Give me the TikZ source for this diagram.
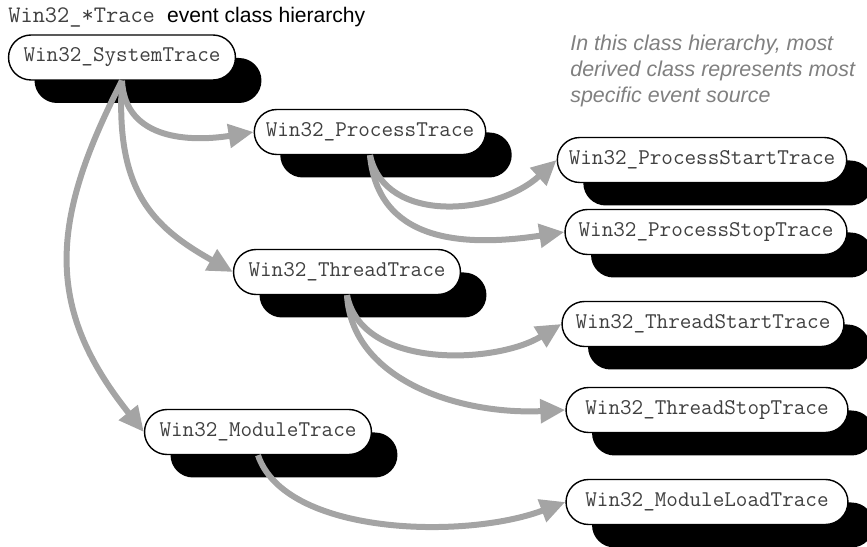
\documentclass[tikz,border=0pt]{standalone}
\usepackage{fontspec}
\setmainfont{Liberation Sans}
\usetikzlibrary{arrows.meta,shadows}
\definecolor{linkgray}{HTML}{A4A4A4}
\definecolor{notegray}{HTML}{808080}
\definecolor{textgray}{HTML}{404040}
\tikzset{>={Triangle[length=0.5cm,width=0.46cm]}}

\begin{document}
\begin{tikzpicture}[x=0.02cm, y=-0.02cm,
    cls/.style={draw, thick, fill=white, rounded corners=0.45cm, minimum height=0.9cm, minimum width=#1, inner xsep=0.23cm, text=textgray, font=\ttfamily\fontsize{12.8}{14}\selectfont, drop shadow={shadow xshift=0.52cm, shadow yshift=-0.46cm, fill=black, opacity=1}},
    cls/.default=4.54cm,
    inh/.style={->, line width=0.12cm, draw=linkgray}
  ]
    \clip (0,0) rectangle (867,547);

    \node[anchor=base west, inner sep=0] (title) at (8,23) {{\ttfamily\fontsize{13.5}{15}\selectfont\color{textgray}Win32\_*Trace}\hspace{7pt}{\fontsize{12}{14}\selectfont event class hierarchy}};
    \node[anchor=north west, inner sep=0, align=left, text=notegray, font=\itshape\fontsize{12.2}{14.7}\selectfont] (note) at (570,35) {In this class hierarchy, most\\derived class represents most\\specific event source};

    \node[cls] (system)  at (122,57.5) {Win32\_SystemTrace};
    \node[cls] (process) at (370,132)  {Win32\_ProcessTrace};
    \node[cls] (thread)  at (347,272)  {Win32\_ThreadTrace};
    \node[cls] (module)  at (258,432)  {Win32\_ModuleTrace};

    \node[cls=5.64cm] (pstart) at (702,160) {Win32\_ProcessStartTrace};
    \node[cls=5.64cm] (pstop)  at (706,232) {Win32\_ProcessStopTrace};
    \node[cls=5.64cm] (tstart) at (703,324) {Win32\_ThreadStartTrace};
    \node[cls=5.64cm] (tstop)  at (707,410) {Win32\_ThreadStopTrace};
    \node[cls=5.64cm] (mload)  at (707,502) {Win32\_ModuleLoadTrace};

    \draw[inh] (system.south)  .. controls +(3,60) and +(-62,10) .. (process.west);
    \draw[inh] (system.south)  .. controls +(-7,110) and +(-80,-45) .. (thread.west);
    \draw[inh] (system.south)  .. controls +(-72,140) and +(-100,-125) .. (module.west);
    \draw[inh] (process.south) .. controls +(15,70) and +(-60,55) .. (pstart.west);
    \draw[inh] (process.south) .. controls +(8,85) and +(-105,16) .. (pstop.west);
    \draw[inh] (thread.south)  .. controls +(15,75) and +(-65,40) .. (tstart.west);
    \draw[inh] (thread.south)  .. controls +(5,85) and +(-106,5) .. (tstop.west);
    \draw[inh] (module.south)  .. controls +(27,80) and +(-101,38) .. (mload.west);
  \end{tikzpicture}
\end{document}
